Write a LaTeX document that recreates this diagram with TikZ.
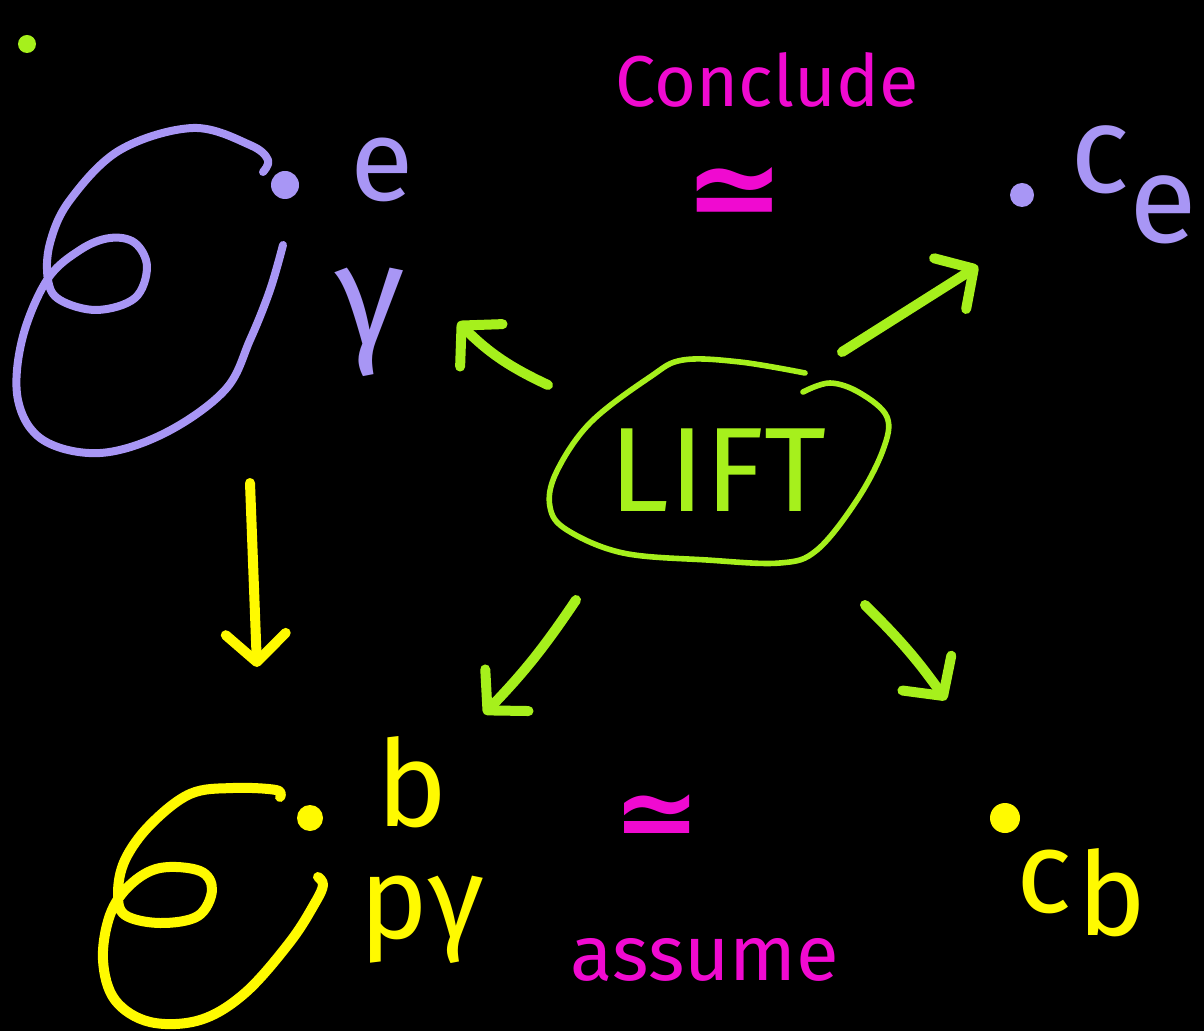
\documentclass[tikz,border=0pt]{standalone}
\usepackage{fontspec}
\setmainfont{Fira Sans}
\newfontfamily\symfont{DejaVu Sans}
\usetikzlibrary{arrows.meta}
\definecolor{lav}{RGB}{168,150,245}
\definecolor{lime}{RGB}{166,240,28}
\definecolor{mag}{RGB}{240,10,208}
\definecolor{yel}{RGB}{255,250,0}
\tikzset{
  stroke/.style={line width=#1, line cap=round, line join=round},
  harrow/.style={stroke=5pt, -{Straight Barb[length=14pt,width=30pt,line cap=round,line join=round]}},
  dotnode/.style={circle, fill=#1, inner sep=0pt, minimum size=11pt},
  lbl/.style={inner sep=0pt, font=\fontsize{#1}{#1}\selectfont},
}
\begin{document}
\begin{tikzpicture}[x=0.5pt,y=-0.5pt]
\fill[black] (0,0) rectangle (1204,1031);
\useasboundingbox (0,0) rectangle (1204,1031);

% stray dot
\node[dotnode=lime, minimum size=9pt] (gdot) at (27,44) {};

% purple loop
\draw[lav, stroke=4pt] plot[smooth, tension=0.6] coordinates {
  (263,172) (268,160) (250,145) (193,128) (120,150) (70,200) (50,243) (48,280) (60,300)
  (97,310) (135,298) (147,267) (135,243) (110,238) (80,250) (47,280) (22,340) (18,400)
  (43,440) (100,453) (165,433) (225,390) (250,340) (270,290) (283,245)};
\node[dotnode=lav, minimum size=14pt] (pe) at (285,185) {};
\node[lbl=58, text=lav] (e) at (382,170) {e};
\node[lbl=72, text=lav] (gam) at (370,322) {γ};

% yellow loop
\draw[yel, stroke=5pt] plot[smooth, tension=0.6] coordinates {
  (280,797) (276,790) (233,788) (190,794) (150,825) (125,860) (118,893) (125,915)
  (160,923) (198,916) (212,890) (200,871) (160,868) (130,885) (110,915) (103,960) (115,1000)
  (150,1022) (200,1020) (245,993) (290,942) (315,903) (323,885) (318,877)};
\node[dotnode=yel, minimum size=13pt] (yb) at (310,818) {};
\node[lbl=60, text=yel] (b) at (412,782) {b};
\node[lbl=58, text=yel] (pg) at (422,920) {pγ};

% top-right c_e
\node[dotnode=lav, minimum size=12pt] (ced) at (1022,195) {};
\node[lbl=62, text=lav, anchor=west] (ce) at (1070,185) {c\raisebox{-0.4em}{e}};

% bottom-right c_b
\node[dotnode=yel, minimum size=15pt] (cbd) at (1005,818) {};
\node[lbl=58, text=yel, anchor=west] (cb) at (1016,893) {c\kern0.05em\raisebox{-0.2em}{b}};

% magenta texts
\node[lbl=36, text=mag] (concl) at (767,80) {Conclude};
\node[lbl=60, text=mag] (simtop) at (735,198) {\symfont\bfseries ≃};
\node[lbl=52, text=mag] (simbot) at (657,822) {\symfont\bfseries ≃};
\node[lbl=39, text=mag] (assume) at (705,960) {assume};

% LIFT blob
\node[lbl=60, text=lime] (lift) at (718,470) {LIFT};
\draw[lime, stroke=2.8pt] plot[smooth, tension=0.6] coordinates {
  (805,373) (740,362) (683,360) (650,377) (590,423) (556,473) (550,507) (567,530)
  (623,553) (707,560) (780,563) (817,550) (857,500) (883,450) (887,417) (860,393)
  (830,383) (803,392)};

% arrow endpoints
\coordinate (a1s) at (548,385);
\coordinate (a1e) at (458,322);
\coordinate (a2s) at (842,352);
\coordinate (a2e) at (978,266);
\coordinate (a3s) at (576,600);
\coordinate (a3e) at (484,714);
\coordinate (a4s) at (865,605);
\coordinate (a4e) at (946,700);
\coordinate (a5s) at (250,483);
\coordinate (a5e) at (257,667);

\draw[lime, harrow] (a1s) to[bend left=10] (a1e);
\draw[lime, harrow] (a2s) -- (a2e);
\draw[lime, harrow] (a3s) to[bend left=5] (a3e);
\draw[lime, harrow] (a4s) to[bend left=5] (a4e);
\draw[yel, harrow] (a5s) -- (a5e);
\end{tikzpicture}
\end{document}
